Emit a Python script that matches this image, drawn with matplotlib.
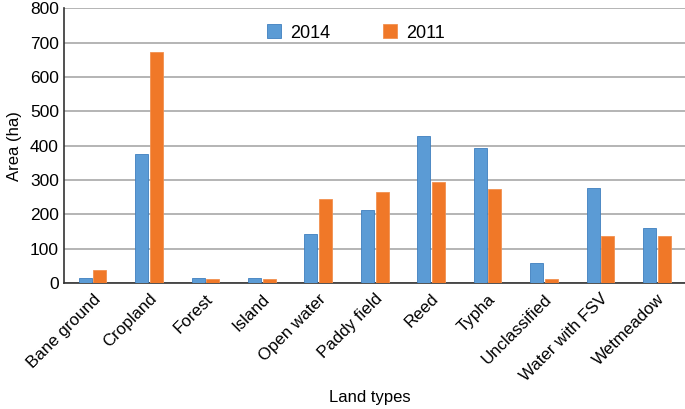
import numpy as np
import matplotlib.pyplot as plt

plt.rcParams['font.family'] = ['Liberation Sans', 'DejaVu Sans']

# Data
land_types = ["Bane ground", "Cropland", "Forest", "Island", "Open water",
              "Paddy field", "Reed", "Typha", "Unclassified",
              "Water with FSV", "Wetmeadow"]
area_2014 = [15, 377, 15, 15, 142, 212, 428, 393, 58, 277, 160]
area_2011 = [38, 673, 11, 11, 246, 265, 293, 273, 12, 137, 137]

x = np.arange(len(land_types))
w = 0.23

fig = plt.figure(figsize=(6.85, 4.09), dpi=100)
ax = fig.add_axes([0.094, 0.308, 0.906, 0.672])

ax.bar(x - 0.13, area_2014, w, color="#5B9BD5", edgecolor="#3F7FBF",
       linewidth=0.6, label="2014", zorder=3)
ax.bar(x + 0.13, area_2011, w, color="#F07828", edgecolor="#F29050",
       linewidth=0.6, label="2011", zorder=3)

ax.set_xlim(-0.5, len(land_types) - 0.5)
ax.set_ylim(0, 800)
ax.set_yticks(range(0, 801, 100))
ax.yaxis.grid(True, color="#A8A8A8", linewidth=1.2, zorder=0)

for side in ["top", "right"]:
    ax.spines[side].set_visible(False)
ax.spines["left"].set_color("#333333")
ax.spines["bottom"].set_color("#333333")
ax.spines["left"].set_linewidth(1.2)
ax.spines["bottom"].set_linewidth(1.2)

ax.set_xticks(x)
ax.set_xticklabels(land_types, rotation=45, ha="right", rotation_mode="anchor",
                   fontsize=12.2)
ax.tick_params(axis="x", length=0, pad=6)
ax.tick_params(axis="y", length=0, labelsize=12.5, pad=4)

ax.set_ylabel("Area (ha)", fontsize=12, labelpad=6)
# x label placed at a fixed spot below the rotated tick labels
fig.text(0.54, 0.027, "Land types", fontsize=12, ha="center", va="center")

ax.legend(loc="upper center", bbox_to_anchor=(0.47, 1.0), ncol=2,
          frameon=False, fontsize=13, handlelength=0.8, handleheight=0.8,
          columnspacing=2.9, handletextpad=0.5)

fig.savefig("out.png", dpi=100)
